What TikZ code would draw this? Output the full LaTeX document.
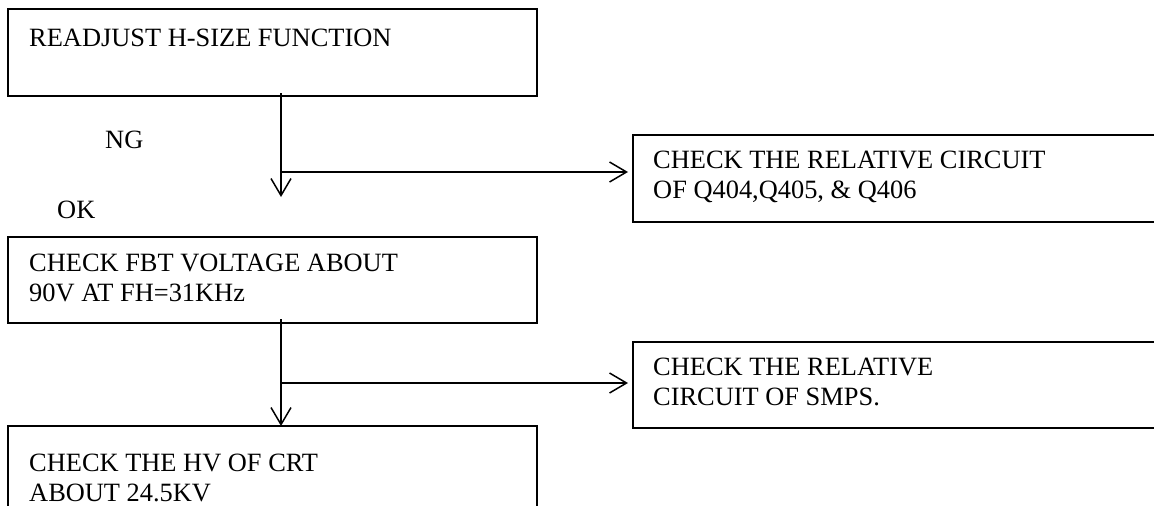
\documentclass[tikz,border=0pt]{standalone}
\usepackage{fontspec}
\setmainfont{Liberation Serif}
\usetikzlibrary{arrows.meta}
% two stacked lines whose baseline is the first line's
\newcommand{\stacklines}[2]{\vtop{\hbox{#1}\hbox{#2}}}
\begin{document}
\begin{tikzpicture}[x=1pt,y=-1pt,
  box/.style={draw,line width=1.6pt,inner sep=0pt,outer sep=0pt,anchor=north west},
  lbl/.style={inner sep=0pt,anchor=base west,font=\fontsize{26.4}{30}\selectfont},
  arr/.style={line width=1.5pt,-{Straight Barb[length=17pt,width=20pt,line width=1.5pt]}}]
\useasboundingbox (0,0) rectangle (1154,506);
\clip (0,0) rectangle (1154,506);

% process boxes
\node[box,minimum width=529pt,minimum height=87pt] (b1) at (8,9) {};
\node[box,minimum width=529pt,minimum height=86pt] (b2) at (8,237) {};
\node[box,minimum width=529pt,minimum height=120pt] (b3) at (8,426) {};
\node[box,minimum width=540pt,minimum height=87pt] (r1) at (633,135) {};
\node[box,minimum width=540pt,minimum height=86pt] (r2) at (633,342) {};

% box texts
\node[lbl] (t1) at (29,46) {READJUST H-SIZE FUNCTION};
\node[lbl] (t2) at (29,271) {\stacklines{CHECK FBT VOLTAGE ABOUT}{90V AT FH=31KHz}};
\node[lbl] (t3) at (29,471) {\stacklines{CHECK THE HV OF CRT}{ABOUT 24.5KV}};
\node[lbl] (u1) at (653,168) {\stacklines{CHECK THE RELATIVE CIRCUIT}{OF Q404,Q405, \& Q406}};
\node[lbl] (u2) at (653,375) {\stacklines{CHECK THE RELATIVE}{CIRCUIT OF SMPS.}};

% branch labels
\node[lbl] (ng) at (105,148) {NG};
\node[lbl] (ok) at (57,218) {OK};

% connector points
\coordinate (s1) at (281,93);
\coordinate (e1) at (281,197);
\coordinate (j1) at (281,172);
\coordinate (s2) at (281,319);
\coordinate (j2) at (281,383);

\draw[arr] (s1) -- (e1);
\draw[arr,shorten >=5pt] (j1) -- (j1 -| r1.west);
\draw[arr] (s2) -- (s2 |- b3.north);
\draw[arr,shorten >=5pt] (j2) -- (j2 -| r2.west);
\end{tikzpicture}
\end{document}
